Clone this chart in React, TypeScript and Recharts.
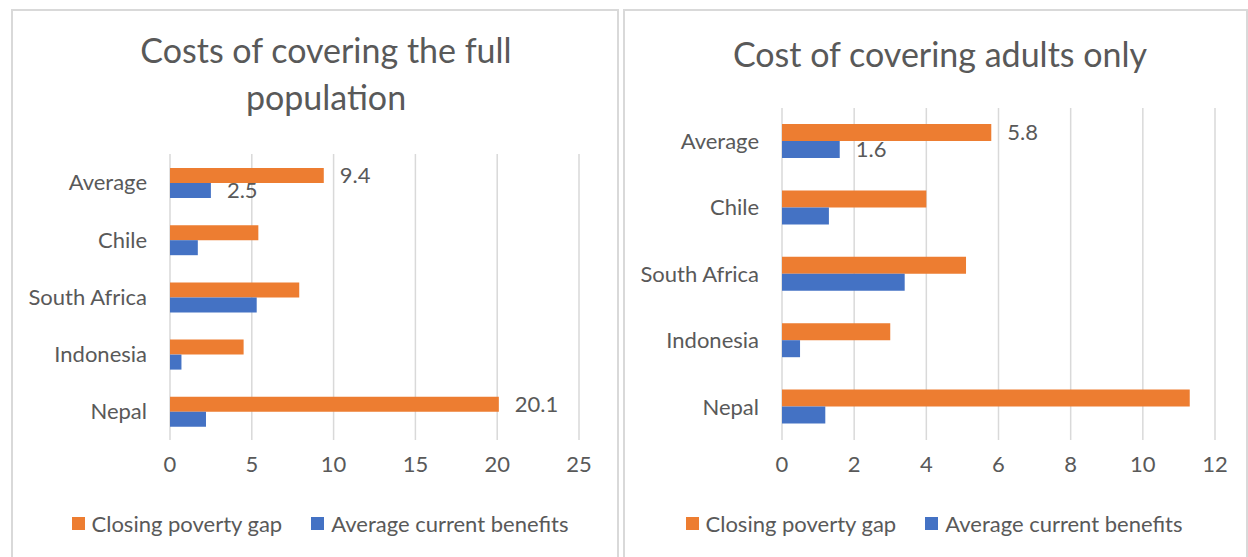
import { BarChart, Bar, XAxis, YAxis, CartesianGrid, LabelList, Legend } from "recharts";

const ORANGE = "#ED7D31";
const BLUE = "#4472C4";
const GRID = "#D9D9D9";
const TEXT = "#595959";
const FONT = "Lato, 'Open Sans', sans-serif";

const COUNTRIES = ["Average", "Chile", "South Africa", "Indonesia", "Nepal"];
const SERIES = ["Closing poverty gap", "Average current benefits"];

// full population
const FULL_GAP = [9.4, 5.4, 7.9, 4.5, 20.1];
const FULL_BENEFITS = [2.5, 1.7, 5.3, 0.7, 2.2];
const FULL_TICKS = [0, 5, 10, 15, 20, 25];
const FULL_GAP_LABELED = ["Average", "Nepal"];
const FULL_BEN_LABELED = ["Average"];

// adults only
const ADULT_GAP = [5.8, 4.0, 5.1, 3.0, 11.3];
const ADULT_BENEFITS = [1.6, 1.3, 3.4, 0.5, 1.2];
const ADULT_TICKS = [0, 2, 4, 6, 8, 10, 12];
const ADULT_GAP_LABELED = ["Average"];
const ADULT_BEN_LABELED = ["Average"];

function buildRows(gap: number[], ben: number[], gapLab: string[], benLab: string[]) {
  return COUNTRIES.map((name, i) => ({
    name,
    gap: gap[i],
    ben: ben[i],
    gapLabel: gapLab.includes(name) ? gap[i] : null,
    benLabel: benLab.includes(name) ? ben[i] : null,
  }));
}

function LegendRow() {
  const colors = [ORANGE, BLUE];
  return (
    <div style={{ display: "flex", justifyContent: "center", alignItems: "center", gap: 29, fontFamily: FONT, fontSize: 22, color: TEXT }}>
      {SERIES.map((s, i) => (
        <div key={s} style={{ display: "flex", alignItems: "center", gap: 7 }}>
          <span style={{ display: "inline-block", width: 13, height: 13, background: colors[i] }} />
          <span>{s}</span>
        </div>
      ))}
    </div>
  );
}

type PanelProps = {
  left: number;
  width: number;
  title: string[];
  titleCenter: number;
  titleTop: number;
  rows: ReturnType<typeof buildRows>;
  ticks: number[];
  plotTop: number;
  plotLeft: number;
  rightMargin: number;
  barSize: number;
  legendLeft: number;
  legendWidth: number;
};

function Panel(p: PanelProps) {
  const H = 557;
  const xAxisH = 40;
  return (
    <>
      <div
        style={{
          position: "absolute",
          left: p.left + (p.left === 0 ? 11 : 3),
          top: 9,
          width: p.width - (p.left === 0 ? 12 : 3),
          height: 560,
          borderTop: `2px solid ${GRID}`,
          borderLeft: `2px solid ${GRID}`,
          borderRight: `2px solid ${GRID}`,
          boxSizing: "border-box",
        }}
      />
      <div
        style={{
          position: "absolute",
          left: p.titleCenter - 300,
          width: 600,
          top: p.titleTop,
          textAlign: "center",
          fontFamily: FONT,
          fontSize: 34,
          lineHeight: "47px",
          color: TEXT,
        }}
      >
        {p.title.map((t) => (
          <div key={t}>{t}</div>
        ))}
      </div>
      <div style={{ position: "absolute", left: p.left, top: 0 }}>
        <BarChart
          width={p.width}
          height={H}
          data={p.rows}
          layout="vertical"
          barGap={0}
          margin={{ top: p.plotTop, right: p.rightMargin, bottom: H - 440 - xAxisH, left: 0 }}
          style={{ fontFamily: FONT }}
        >
          <CartesianGrid horizontal={false} stroke={GRID} strokeWidth={1.5} />
          <XAxis
            type="number"
            domain={[p.ticks[0], p.ticks[p.ticks.length - 1]]}
            ticks={p.ticks}
            height={xAxisH}
            axisLine={false}
            tickLine={false}
            tickSize={0}
            tickMargin={16}
            tick={{ fill: TEXT, fontSize: 22 }}
          />
          <YAxis
            type="category"
            dataKey="name"
            width={p.plotLeft}
            axisLine={false}
            tickLine={false}
            tickSize={0}
            tickMargin={23}
            tick={{ fill: TEXT, fontSize: 22 }}
          />
          <Legend
            layout="horizontal"
            verticalAlign="middle"
            align="center"
            wrapperStyle={{ left: p.legendLeft, top: 510, width: p.legendWidth }}
            content={() => <LegendRow />}
          />
          <Bar dataKey="gap" name={SERIES[0]} fill={ORANGE} barSize={p.barSize} isAnimationActive={false}>
            <LabelList dataKey="gapLabel" position="right" offset={16} fill={TEXT} fontSize={22} />
          </Bar>
          <Bar dataKey="ben" name={SERIES[1]} fill={BLUE} barSize={p.barSize} isAnimationActive={false}>
            <LabelList dataKey="benLabel" position="right" offset={16} fill={TEXT} fontSize={22} />
          </Bar>
        </BarChart>
      </div>
    </>
  );
}

export default function App() {
  return (
    <div style={{ position: "absolute", left: 0, top: 0, width: 1248, height: 557, background: "#fff", overflow: "hidden" }}>
      <Panel
        left={0}
        width={620}
        title={["Costs of covering the full", "population"]}
        titleCenter={326}
        titleTop={26}
        rows={buildRows(FULL_GAP, FULL_BENEFITS, FULL_GAP_LABELED, FULL_BEN_LABELED)}
        ticks={FULL_TICKS}
        plotTop={154}
        plotLeft={170}
        rightMargin={41}
        barSize={15}
        legendLeft={20}
        legendWidth={600}
      />
      <Panel
        left={620}
        width={628}
        title={["Cost of covering adults only"]}
        titleCenter={940}
        titleTop={30}
        rows={buildRows(ADULT_GAP, ADULT_BENEFITS, ADULT_GAP_LABELED, ADULT_BEN_LABELED)}
        ticks={ADULT_TICKS}
        plotTop={108}
        plotLeft={162}
        rightMargin={33}
        barSize={17}
        legendLeft={14}
        legendWidth={600}
      />
    </div>
  );
}
